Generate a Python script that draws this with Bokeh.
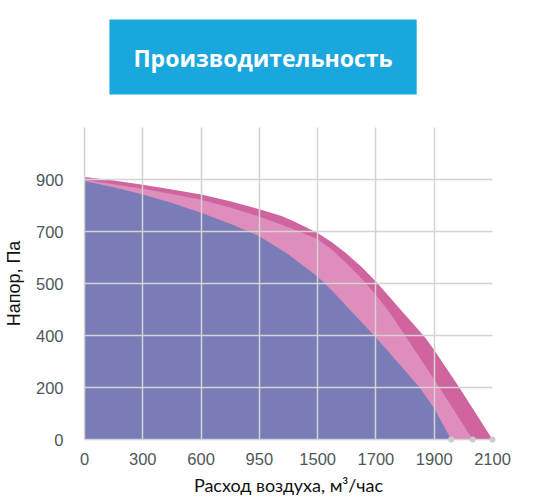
from bokeh.plotting import figure
from bokeh.layouts import column
from bokeh.models import FixedTicker, Range1d
from bokeh.core.properties import value
from bokeh.embed import file_html
from bokeh.resources import INLINE
import numpy as np

TITLE = "Производительность"

# Axis tick labels (non-linear, evenly spaced on the chart)
x_ticks = [0, 300, 600, 950, 1500, 1700, 1900, 2100]
y_ticks = [0, 200, 400, 500, 700, 900, 1100]

# Series: air flow (m3/h) -> pressure (Pa)
outer_x = [0, 150, 300, 450, 600, 775, 950, 1159, 1280, 1500, 1550, 1600, 1650, 1700, 1800, 1866, 1900, 1986, 2100]
outer_y = [910, 896, 880, 862, 842, 816, 786, 760, 738, 694, 658, 614, 564, 508, 440, 396, 344, 200, 0]

middle_x = [0, 150, 300, 450, 600, 775, 950, 1159, 1280, 1500, 1550, 1600, 1650, 1700, 1750, 1800, 1918, 2032]
middle_y = [898, 882, 864, 844, 822, 792, 758, 726, 708, 670, 630, 576, 520, 478, 442, 400, 200, 0]

inner_x = [0, 150, 300, 450, 600, 775, 950, 1225, 1500, 1550, 1600, 1700, 1800, 1850, 1900, 1958]
inner_y = [894, 870, 842, 810, 772, 730, 682, 612, 526, 486, 456, 392, 264, 200, 120, 0]

end_x = [1958, 2032, 2100]
end_y = [0, 0, 0]

xi = np.arange(len(x_ticks))
yi = np.arange(len(y_ticks))


def to_x(v):
    return np.interp(v, x_ticks, xi)


def to_y(v):
    return np.interp(v, y_ticks, yi)


# ---- title banner (its frame is aligned with the chart frame: page x 83..491) ----
TH = 122
t = figure(width=548, height=TH, output_backend="svg", toolbar_location=None,
           x_range=Range1d(83, 491), y_range=Range1d(TH, 0),
           min_border_left=83, min_border_right=57, min_border_top=0, min_border_bottom=0,
           border_fill_color="white", background_fill_color="white")
t.axis.visible = False
t.grid.visible = False
t.outline_line_color = None
t.quad(left=[108], right=[416], top=[19], bottom=[94], fill_color="#1aa7de", line_color=None)
t.text(x=[262], y=[57], text=[TITLE], text_font=value("Open Sans"), text_font_style="bold",
       text_font_size="23px", text_color="white", text_align="center", text_baseline="middle")

# ---- chart ----
p = figure(frame_width=408, frame_height=312, output_backend="svg", toolbar_location=None,
           x_range=Range1d(0, len(x_ticks) - 1), y_range=Range1d(0, len(y_ticks) - 1),
           min_border_left=83, min_border_right=57, min_border_top=5, min_border_bottom=60,
           background_fill_color="white", border_fill_color="white")
p.outline_line_color = None

for xs, ys, col in [(outer_x, outer_y, "#d0649e"), (middle_x, middle_y, "#de8dbd"), (inner_x, inner_y, "#797cb6")]:
    px = to_x(xs)
    py = to_y(ys)
    p.varea(x=px, y1=np.zeros_like(py), y2=py, fill_color=col, fill_alpha=1)

p.xaxis.ticker = FixedTicker(ticks=list(xi))
p.xaxis.major_label_overrides = {int(i): str(v) for i, v in zip(xi, x_ticks)}
p.yaxis.ticker = FixedTicker(ticks=list(yi))
ov = {int(i): str(v) for i, v in zip(yi, y_ticks)}
ov[int(yi[-1])] = ""
p.yaxis.major_label_overrides = ov

for ax in (p.xaxis, p.yaxis):
    ax.major_tick_line_color = None
    ax.minor_tick_line_color = None
    ax.axis_line_color = "#d4d4d4"
    ax.axis_line_width = 1.5
    ax.major_label_text_font = "Liberation Sans"
    ax.major_label_text_font_size = "16.5px"
    ax.major_label_text_color = "#4d5858"

p.xaxis.major_label_standoff = 7
p.yaxis.major_label_standoff = 15
p.xaxis.axis_label = "Расход воздуха, м³/час"
p.xaxis.axis_label_text_font = "Lato"
p.xaxis.axis_label_text_font_style = "normal"
p.xaxis.axis_label_text_font_size = "18px"
p.xaxis.axis_label_text_color = "#111111"
p.xaxis.axis_label_standoff = 6
p.yaxis.axis_label = "Напор, Па"
p.yaxis.axis_label_text_font = "Liberation Sans"
p.yaxis.axis_label_text_font_style = "normal"
p.yaxis.axis_label_text_font_size = "18px"
p.yaxis.axis_label_text_color = "#111111"
p.yaxis.axis_label_standoff = 9

p.grid.grid_line_color = "#d4d4d4"
p.grid.grid_line_width = 1.5
p.grid.level = "annotation"

p.scatter(to_x(end_x), to_y(end_y), size=6, color="#cccccc", line_color=None, level="overlay")

layout = column(t, p, spacing=0)
open("out.html", "w").write(file_html(layout, INLINE))
